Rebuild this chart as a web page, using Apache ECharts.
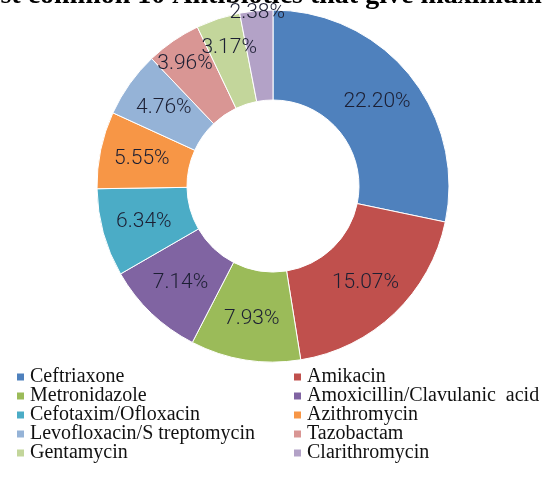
<!DOCTYPE html>
<html>
<head>
<meta charset="utf-8">
<script src="https://cdn.jsdelivr.net/npm/echarts@6/dist/echarts.min.js"></script>
<style>
  html, body { margin: 0; padding: 0; background: #fff; }
  #chart { width: 543px; height: 477px; }
</style>
</head>
<body>
<div id="chart"></div>
<script>
// Antibiotics and their share of resistance (percent labels as printed)
const antibiotics = [
  'Ceftriaxone', 'Amikacin', 'Metronidazole', 'Amoxicillin/Clavulanic  acid',
  'Cefotaxim/Ofloxacin', 'Azithromycin', 'Levofloxacin/S treptomycin', 'Tazobactam',
  'Gentamycin', 'Clarithromycin'
];
const shares = [22.20, 15.07, 7.93, 7.14, 6.34, 5.55, 4.76, 3.96, 3.17, 2.38];
const sliceColors = [
  '#4F81BD', '#C0504D', '#9BBB59', '#8064A2', '#4BACC6',
  '#F79646', '#95B3D7', '#D99694', '#C3D69B', '#B3A2C7'
];
const chartTitle = 'Most common 10 Antibiotics that give maximum resistance';

// legend is laid out in two columns: left takes even indices, right takes odd
const leftColumn = antibiotics.filter((_, i) => i % 2 === 0);
const rightColumn = antibiotics.filter((_, i) => i % 2 === 1);

// small slices near the top get their labels nudged outward
const labelNudge = { 7: [-12, -12], 8: [-2, -11], 9: [-3, -40] };

const chart = echarts.init(document.getElementById('chart'));

const legendBase = {
  orient: 'vertical',
  top: 362,
  icon: 'rect',
  itemWidth: 9,
  itemHeight: 9,
  itemGap: -1,
  textStyle: {
    fontFamily: 'Liberation Serif',
    fontSize: 20,
    lineHeight: 19,
    color: '#111'
  }
};

chart.setOption({
  animation: false,
  color: sliceColors,
  title: {
    text: chartTitle,
    left: -40,
    top: -18,
    padding: 0,
    z: 0,
    textStyle: {
      fontFamily: 'Liberation Serif',
      fontWeight: 'bold',
      fontSize: 28,
      lineHeight: 28,
      color: '#000'
    }
  },
  legend: [
    Object.assign({}, legendBase, { left: 10, data: leftColumn }),
    Object.assign({}, legendBase, { left: 287, data: rightColumn })
  ],
  series: [{
    type: 'pie',
    z: 3,
    center: [273, 186],
    radius: [86, 176],
    startAngle: 90,
    clockwise: true,
    avoidLabelOverlap: false,
    itemStyle: { borderColor: '#fff', borderWidth: 1 },
    label: {
      show: true,
      position: 'inside',
      formatter: p => p.value.toFixed(2) + '%',
      fontFamily: 'Roboto',
      fontWeight: 300,
      fontSize: 21,
      color: '#1c1f33'
    },
    labelLine: { show: false },
    labelLayout: p => {
      const n = labelNudge[p.dataIndex];
      return n ? { dx: n[0], dy: n[1] } : {};
    },
    emphasis: { disabled: true },
    data: antibiotics.map((name, i) => ({ name: name, value: shares[i] }))
  }]
});
</script>
</body>
</html>
